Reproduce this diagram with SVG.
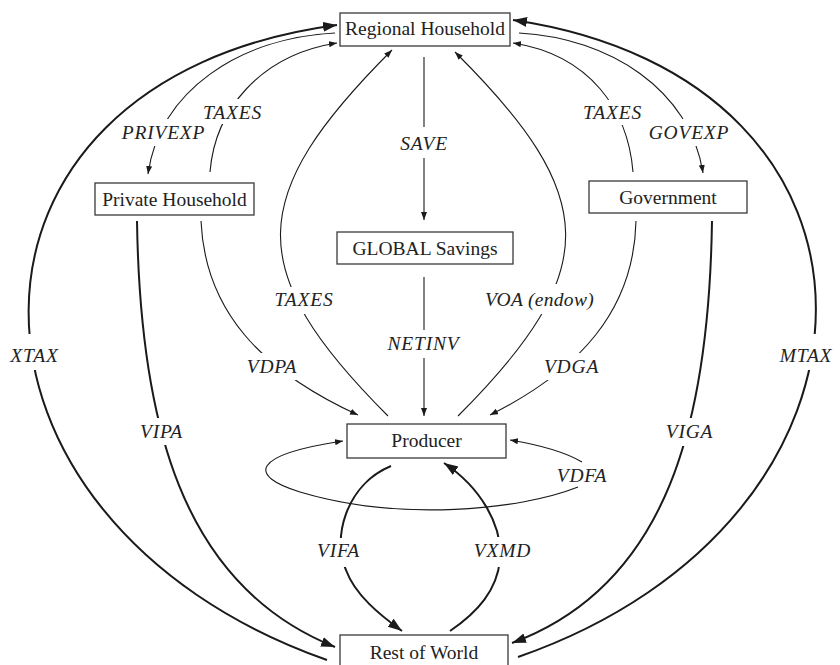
<svg xmlns="http://www.w3.org/2000/svg" width="840" height="665" viewBox="0 0 840 665">
<style>
.box{fill:#fff;stroke:#3a3a3a;stroke-width:1.3}
.nt{font-family:"Liberation Serif","DejaVu Serif","Times New Roman",serif;font-size:19.5px;fill:#222;text-anchor:middle}
.lb{font-family:"Liberation Serif","DejaVu Serif","Times New Roman",serif;font-size:19.5px;font-style:italic;fill:#222;text-anchor:middle;letter-spacing:0.8px}
.thin{fill:none;stroke:#1a1a1a;stroke-width:1.1}
.thick{fill:none;stroke:#1a1a1a;stroke-width:2}
.sa{marker-end:url(#small)}
.ba{marker-end:url(#big)}
</style>
<defs>
<marker id="small" markerUnits="userSpaceOnUse" markerWidth="9" markerHeight="7" refX="8" refY="3" orient="auto"><path d="M0,0 L8,3 L0,6 z" fill="#1a1a1a"/></marker>
<marker id="big" markerUnits="userSpaceOnUse" markerWidth="15" markerHeight="11" refX="14" refY="5" orient="auto"><path d="M0,0 L14,5 L0,10 z" fill="#1a1a1a"/></marker>
<mask id="gaps" maskUnits="userSpaceOnUse" x="0" y="0" width="840" height="665">
<rect x="0" y="0" width="840" height="665" fill="#fff"/>
<g fill="#000">
<rect x="118" y="119" width="92" height="27"/>
<rect x="200" y="99" width="65" height="25"/>
<rect x="398" y="127" width="52" height="31"/>
<rect x="579" y="100" width="67" height="25"/>
<rect x="646" y="119" width="86" height="27"/>
<rect x="271" y="287" width="66" height="27"/>
<rect x="483" y="284" width="113" height="30"/>
<rect x="385" y="330" width="77" height="28"/>
<rect x="5" y="334" width="59" height="36"/>
<rect x="776" y="334" width="64" height="36"/>
<rect x="245" y="353" width="54" height="27"/>
<rect x="543" y="353" width="57" height="27"/>
<rect x="137" y="418" width="49" height="27"/>
<rect x="664" y="418" width="51" height="28"/>
<rect x="555" y="465" width="54" height="20"/>
<rect x="315" y="538" width="47" height="29"/>
<rect x="470" y="537" width="65" height="30"/>
</g>
</mask>
</defs>
<rect x="0" y="0" width="840" height="665" fill="#fff"/>
<g id="connectors" mask="url(#gaps)">
<path class="thick ba" d="M327,660 C-70,520 -75,80 337,25"/>
<path class="thick ba" d="M518,657 C912,520 920,80 513,20"/>
<path class="thin sa" d="M335,33 C240,38 160,90 148,174"/>
<path class="thin sa" d="M210,172 C215,110 260,55 337,43"/>
<path class="thin sa" d="M519,33 C610,38 690,90 703,173"/>
<path class="thin sa" d="M633,172 C628,110 590,55 513,43"/>
<path class="thin sa" d="M424,57 L424,220"/>
<path class="thin sa" d="M424,277 L424,416"/>
<path class="thin sa" d="M388,416 C242,270 246,196 392,50"/>
<path class="thin sa" d="M458,416 C604,270 600,196 455,52"/>
<path class="thin sa" d="M201,221 C205,310 260,370 358,415"/>
<path class="thin sa" d="M636,221 C634,310 580,370 490,415"/>
<path class="thick ba" d="M137,221 C140,420 180,585 335,647"/>
<path class="thick ba" d="M712,221 C709,420 669,585 512,643"/>
<path class="thin sa" d="M582,462 C565,452 540,445 510,440"/>
<path class="thin sa" d="M578,487 C520,510 400,522 300,492 C248,476 250,455 343,441"/>
<path class="thick ba" d="M391,466 C345,485 332,540 346,570 C355,595 380,615 402,631"/>
<path class="thick ba" d="M450,631 C478,612 497,590 500,560 C503,525 480,487 444,463"/>
</g>
<g id="labels">
<text class="lb" x="163.5" y="139">PRIVEXP</text>
<text class="lb" x="232.5" y="119">TAXES</text>
<text class="lb" x="424" y="150">SAVE</text>
<text class="lb" x="612.5" y="119">TAXES</text>
<text class="lb" x="689" y="139">GOVEXP</text>
<text class="lb" x="304" y="306">TAXES</text>
<text class="lb" x="539.5" y="306" style="letter-spacing:0.3px">VOA (endow)</text>
<text class="lb" x="423.5" y="350">NETINV</text>
<text class="lb" x="34.5" y="362">XTAX</text>
<text class="lb" x="806" y="362">MTAX</text>
<text class="lb" x="272" y="373">VDPA</text>
<text class="lb" x="571.5" y="373">VDGA</text>
<text class="lb" x="161.5" y="438">VIPA</text>
<text class="lb" x="689.5" y="438">VIGA</text>
<text class="lb" x="582" y="482">VDFA</text>
<text class="lb" x="338.5" y="557">VIFA</text>
<text class="lb" x="502.5" y="557">VXMD</text>
</g>
<g id="regional-household"><rect class="box" x="340" y="13" width="170" height="33"/><text class="nt" x="425" y="35">Regional Household</text></g>
<g id="private-household"><rect class="box" x="95" y="183" width="159" height="32"/><text class="nt" x="174.5" y="206">Private Household</text></g>
<g id="government"><rect class="box" x="589" y="181" width="158" height="32"/><text class="nt" x="668" y="203.5">Government</text></g>
<g id="global-savings"><rect class="box" x="337" y="232" width="176" height="32"/><text class="nt" x="425" y="254.5">GLOBAL Savings</text></g>
<g id="producer"><rect class="box" x="347" y="424" width="159" height="34"/><text class="nt" x="426.5" y="447">Producer</text></g>
<g id="rest-of-world"><rect class="box" x="340" y="635" width="168" height="40"/><text class="nt" x="424" y="659">Rest of World</text></g>
</svg>
